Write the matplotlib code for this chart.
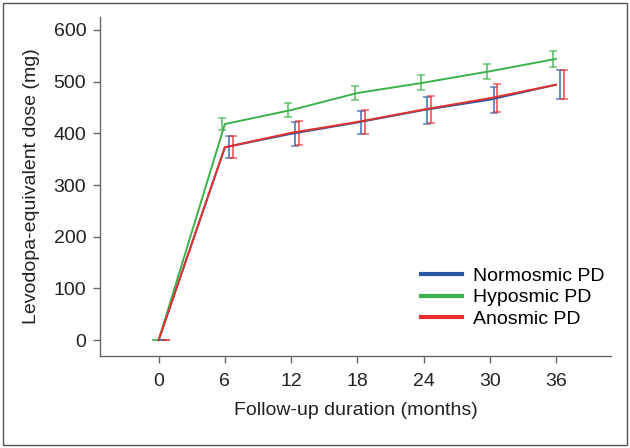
import matplotlib.pyplot as plt
import matplotlib.patches as patches

plt.rcParams['font.family'] = ['Liberation Sans', 'DejaVu Sans']

# --- data ---
months = [0, 6, 12, 18, 24, 30, 36]
normosmic = [0, 373, 399, 421, 445, 465, 494]
normosmic_err = [0, 21, 23, 23, 26, 25, 28]
hyposmic = [0, 418, 445, 478, 498, 520, 544]
hyposmic_err = [0, 12, 13, 13, 14, 14, 15]
anosmic = [0, 373, 401, 422, 446, 468, 494]
anosmic_err = [0, 21, 23, 23, 26, 27, 28]

names = ['Normosmic PD', 'Hyposmic PD', 'Anosmic PD']
colors = ['#2a57a5', '#3bb24a', '#e6302e']
err_shift = [0.35, -0.25, 0.7]   # small horizontal dodge of the error bars

fig = plt.figure(figsize=(6.3, 4.48), dpi=100)
ax = fig.add_axes([0.159, 0.205, 0.811, 0.757])

# thin frame round the whole figure
fig.patches.append(patches.Rectangle((0.005, 0.007), 0.99, 0.986, transform=fig.transFigure,
                                     fill=False, edgecolor='#555555', linewidth=1.0))

series = [(normosmic, normosmic_err), (hyposmic, hyposmic_err), (anosmic, anosmic_err)]
for i in range(3):
    vals, errs = series[i]
    ax.plot(months, vals, color=colors[i], lw=1.4, label=names[i], zorder=3)
    ax.errorbar([m + err_shift[i] for m in months], vals, yerr=errs, fmt='none',
                ecolor=colors[i], elinewidth=1.3, capsize=2.8, capthick=1.1,
                alpha=0.75, zorder=2)

ax.set_xlim(-5.3, 41)
ax.set_ylim(-31, 625)
ax.set_xticks(months)
ax.set_yticks(range(0, 601, 100))

for s in ['top', 'right']:
    ax.spines[s].set_visible(False)
for s in ['left', 'bottom']:
    ax.spines[s].set_color('#666666')
    ax.spines[s].set_linewidth(1.0)
ax.tick_params(colors='#666666', labelcolor='#222222', labelsize=14, length=5, width=1.0)
ax.tick_params(axis='x', pad=7)
ax.tick_params(axis='y', pad=5)

ax.set_xlabel('Follow-up duration (months)', fontsize=14, color='#222222', labelpad=9)
ax.set_ylabel('Levodopa-equivalent dose (mg)', fontsize=14, color='#222222', labelpad=10)

leg = ax.legend(loc='lower right', bbox_to_anchor=(1.014, 0.042), frameon=False,
                fontsize=14, handlelength=2.1, handletextpad=0.57, labelspacing=0.22,
                borderaxespad=0.3)
for h in leg.get_lines():
    h.set_linewidth(3)

fig.savefig('out.png', dpi=100)
